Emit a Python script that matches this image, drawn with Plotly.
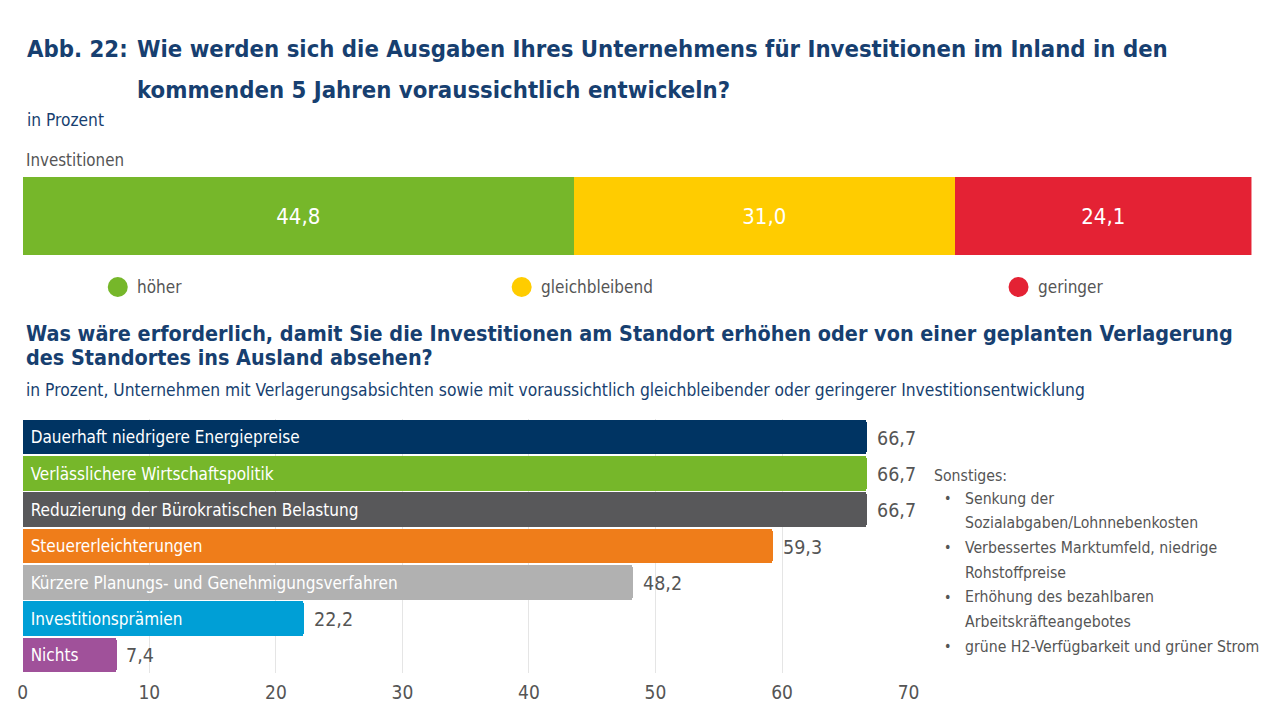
import plotly.graph_objects as go

# --- data ---
top_labels = ["höher", "gleichbleibend", "geringer"]
top_values = [44.8, 31.0, 24.1]
top_colors = ["#76b72a", "#ffcc00", "#e42234"]

measures = [
    "Dauerhaft niedrigere Energiepreise",
    "Verlässlichere Wirtschaftspolitik",
    "Reduzierung der Bürokratischen Belastung",
    "Steuererleichterungen",
    "Kürzere Planungs- und Genehmigungsverfahren",
    "Investitionsprämien",
    "Nichts",
]
measure_values = [66.7, 66.7, 66.7, 59.3, 48.2, 22.2, 7.4]
measure_colors = ["#003463", "#76b72a", "#58585a", "#ef7d1a", "#b1b1b1", "#009fd6", "#a0519a"]

x_ticks = [0, 10, 20, 30, 40, 50, 60, 70]

others = [
    ["Senkung der", "Sozialabgaben/Lohnnebenkosten"],
    ["Verbessertes Marktumfeld, niedrige", "Rohstoffpreise"],
    ["Erhöhung des bezahlbaren", "Arbeitskräfteangebotes"],
    ["grüne H2-Verfügbarkeit und grüner Strom"],
]

FONT = "DejaVu Sans Condensed, sans-serif"
NAVY = "#173f70"
GREY = "#555555"
W, H = 1264, 704


# pixel positions of the reference -> paper fractions (page margin / scaling compensated)
def px(x):
    return ((x - 13.2) / 0.9876) / W


def py(y):
    return 1 - (y - 8) / H


fig = go.Figure()

# top stacked bar
for lab, val, col in zip(top_labels, top_values, top_colors):
    fig.add_trace(go.Bar(
        x=[val], y=["Investitionen"], orientation="h", name=lab,
        marker=dict(color=col, line=dict(width=0)),
        text=[val], texttemplate="%{x:.1f}", textposition="inside",
        insidetextanchor="middle", textangle=0,
        textfont=dict(color="white", size=22, family=FONT),
        xaxis="x", yaxis="y", showlegend=False, hoverinfo="skip",
    ))

# bottom bars, label inside
fig.add_trace(go.Bar(
    x=measure_values, y=measures, orientation="h", width=0.95,
    marker=dict(color=measure_colors, line=dict(width=0), cornerradius=3),
    text=["\u00a0" + m for m in measures], textposition="inside",
    insidetextanchor="start", textangle=0,
    textfont=dict(color="white", size=17, family=FONT),
    xaxis="x2", yaxis="y2", showlegend=False, hoverinfo="skip",
))

fig.update_layout(
    width=W, height=H,
    margin=dict(l=0, r=0, t=0, b=0),
    paper_bgcolor="white", plot_bgcolor="white",
    barmode="stack", bargap=0, separators=",.",
    font=dict(family=FONT, color=GREY),
    xaxis=dict(domain=[px(23), px(1252)], range=[0, sum(top_values)],
               visible=False, fixedrange=True),
    yaxis=dict(domain=[py(255), py(177)], visible=False, fixedrange=True),
    xaxis2=dict(domain=[px(23), px(909)], range=[0, 70], anchor="y2",
                tickvals=x_ticks, showgrid=True, gridcolor="#e5e5e5", gridwidth=1,
                zeroline=False, showline=False, ticks="", ticklabelstandoff=6,
                tickfont=dict(size=19, color=GREY, family=FONT)),
    yaxis2=dict(domain=[py(673), py(419)], anchor="x2", autorange="reversed",
                showticklabels=False, showgrid=False, zeroline=False, showline=False),
)

ann = []
# value labels next to the bars
for m, v in zip(measures, measure_values):
    ann.append(dict(xref="x2", yref="y2", x=v, y=m, text=f"{v:.1f}".replace(".", ","),
                    xanchor="left", yanchor="middle", xshift=8, yshift=-1,
                    font=dict(size=19.5, color=GREY, family=FONT)))

ann.append(dict(x=px(25), y=py(49), text="<b>Abb. 22:</b>", xanchor="left", yanchor="middle",
                font=dict(size=23.7, color=NAVY, family=FONT)))
ann.append(dict(x=px(135), y=py(49), text="<b>Wie werden sich die Ausgaben Ihres Unternehmens für Investitionen im Inland in den</b>",
                xanchor="left", yanchor="middle", font=dict(size=23.7, color=NAVY, family=FONT)))
ann.append(dict(x=px(135), y=py(90), text="<b>kommenden 5 Jahren voraussichtlich entwickeln?</b>",
                xanchor="left", yanchor="middle", font=dict(size=23.7, color=NAVY, family=FONT)))
ann.append(dict(x=px(25), y=py(120), text="in Prozent", xanchor="left", yanchor="middle",
                font=dict(size=17.2, color=NAVY, family=FONT)))
ann.append(dict(x=px(24), y=py(160), text="Investitionen", xanchor="left", yanchor="middle",
                font=dict(size=16.8, color=GREY, family=FONT)))
ann.append(dict(x=px(24), y=py(333),
                text="<b>Was wäre erforderlich, damit Sie die Investitionen am Standort erhöhen oder von einer geplanten Verlagerung</b>",
                xanchor="left", yanchor="middle", font=dict(size=21.4, color=NAVY, family=FONT)))
ann.append(dict(x=px(24), y=py(358), text="<b>des Standortes ins Ausland absehen?</b>",
                xanchor="left", yanchor="middle", font=dict(size=21.4, color=NAVY, family=FONT)))
ann.append(dict(x=px(24), y=py(390),
                text="in Prozent, Unternehmen mit Verlagerungsabsichten sowie mit voraussichtlich gleichbleibender oder geringerer Investitionsentwicklung",
                xanchor="left", yanchor="middle", font=dict(size=17.3, color=NAVY, family=FONT)))

# legend for the top bar
legend_pos = [118, 522, 1019]
shapes = []
for lab, col, cx in zip(top_labels, top_colors, legend_pos):
    shapes.append(dict(type="circle", xref="paper", yref="paper",
                       x0=px(cx - 10), x1=px(cx + 10), y0=py(297), y1=py(277),
                       fillcolor=col, line=dict(width=0)))
    ann.append(dict(x=px(cx + 17), y=py(287), text=lab, xanchor="left", yanchor="middle",
                    font=dict(size=17, color=GREY, family=FONT)))

# Sonstiges box
ann.append(dict(x=px(932), y=py(475), text="Sonstiges:", xanchor="left", yanchor="middle",
                font=dict(size=15.7, color=GREY, family=FONT)))
y0 = 498
for item in others:
    ann.append(dict(x=px(948), y=py(y0), text="•", xanchor="center", yanchor="middle",
                    font=dict(size=14, color=GREY, family=FONT)))
    for line in item:
        ann.append(dict(x=px(963), y=py(y0), text=line, xanchor="left", yanchor="middle",
                        font=dict(size=15.7, color=GREY, family=FONT)))
        y0 += 24.7

for a in ann:
    a.setdefault("xref", "paper")
    a.setdefault("yref", "paper")
    a["showarrow"] = False
fig.update_layout(annotations=ann, shapes=shapes)

fig.write_html("out.html")
